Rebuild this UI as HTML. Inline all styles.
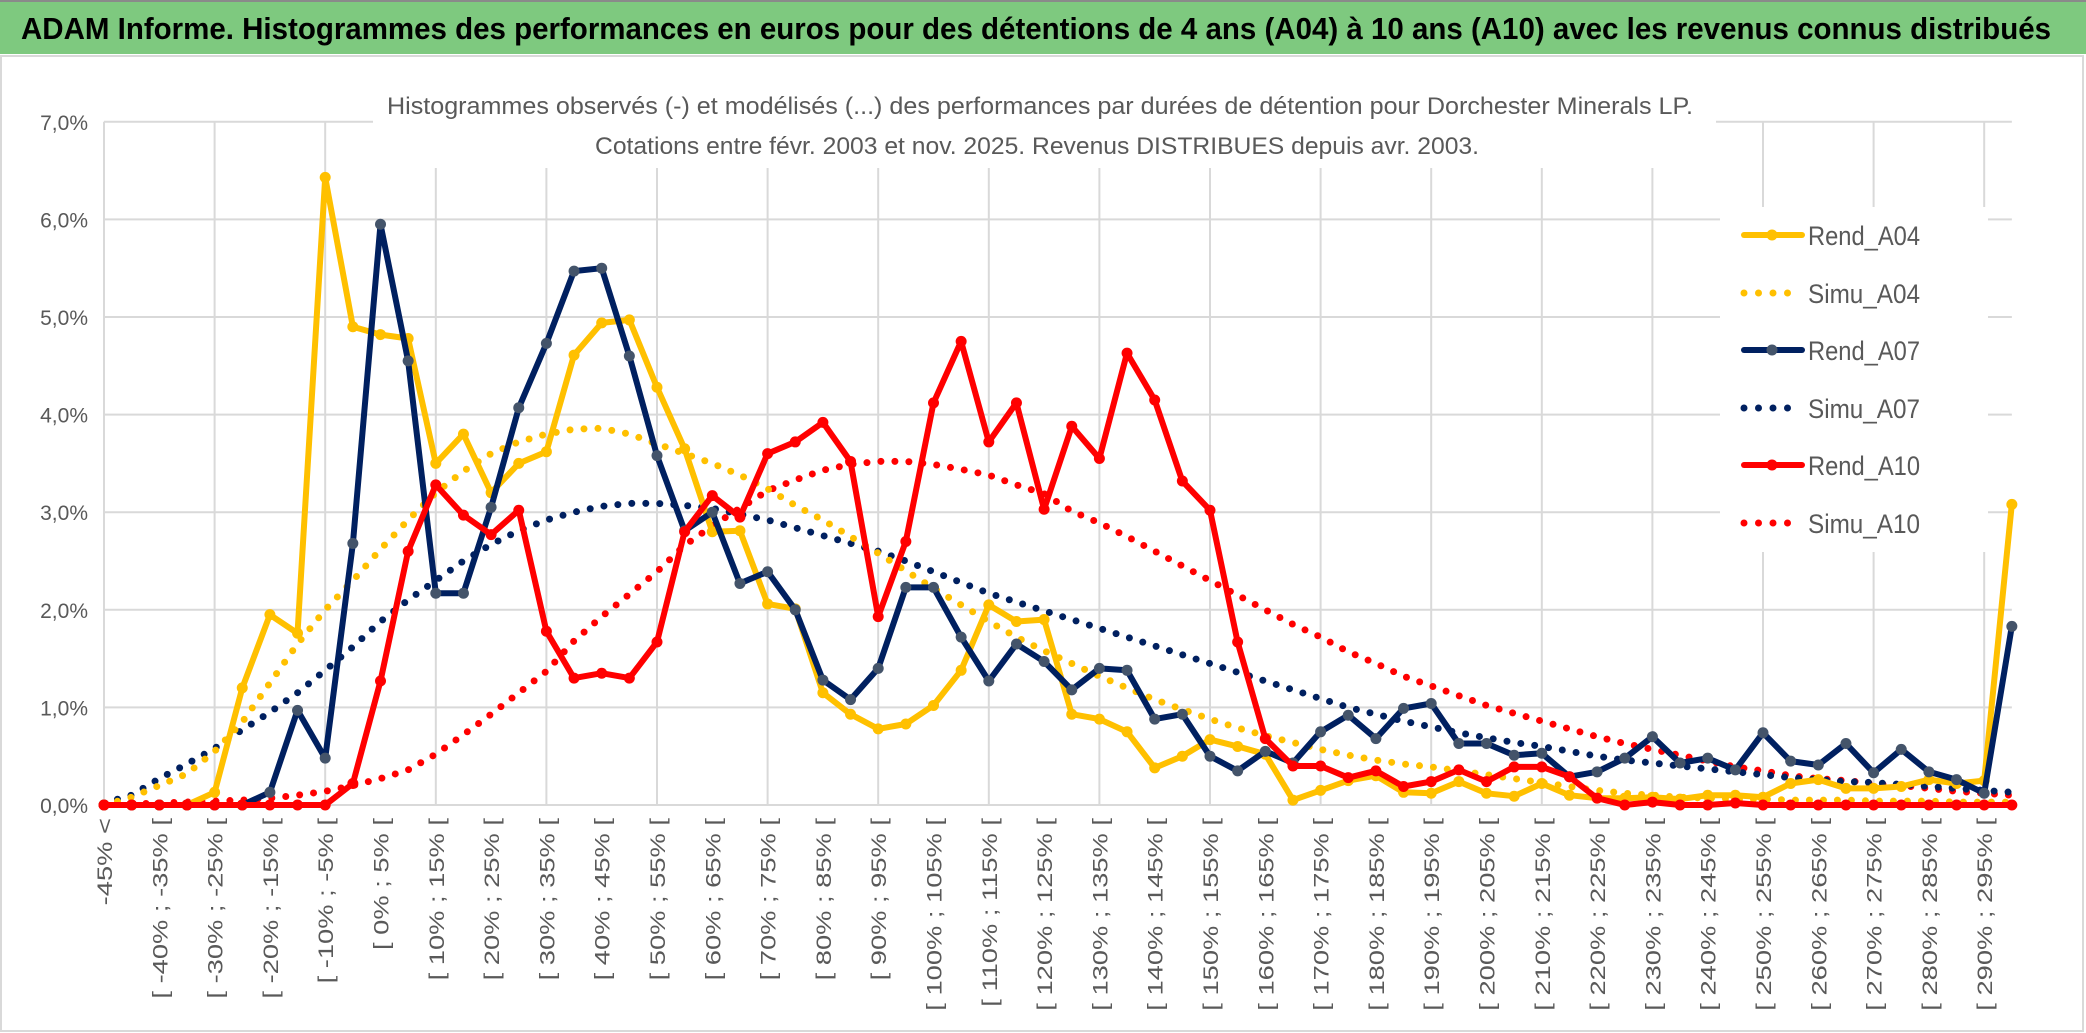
<!DOCTYPE html>
<html><head><meta charset="utf-8"><style>
html,body{margin:0;padding:0;background:#fff;}
svg{display:block;font-family:"Liberation Sans",sans-serif;}
</style></head><body>
<svg id="chart" width="2086" height="1033" viewBox="0 0 2086 1033" xmlns="http://www.w3.org/2000/svg">
<rect x="0" y="0" width="2086" height="1033" fill="#fff"/>
<rect x="1" y="56" width="2082" height="975" fill="none" stroke="#d9d9d9" stroke-width="2"/>
<rect x="0" y="0" width="2086" height="54" fill="#7ec97f"/>
<line x1="0" y1="1" x2="2086" y2="1" stroke="#8a8a8a" stroke-width="2"/>
<text x="1036" y="39" text-anchor="middle" font-size="31" font-weight="bold" fill="#000" textLength="2030" lengthAdjust="spacingAndGlyphs">ADAM Informe. Histogrammes des performances en euros pour des détentions de 4 ans (A04) à 10 ans (A10) avec les revenus connus distribués</text>
<g id="grid"></g>
<rect x="373" y="80" width="1343" height="88" fill="#fff"/>
<text x="1040" y="114" text-anchor="middle" font-size="24" fill="#595959" textLength="1306" lengthAdjust="spacingAndGlyphs">Histogrammes observés (-) et modélisés (...) des performances par durées de détention pour Dorchester Minerals LP.</text>
<text x="1037" y="154" text-anchor="middle" font-size="24" fill="#595959" textLength="884" lengthAdjust="spacingAndGlyphs">Cotations entre févr. 2003 et nov. 2025. Revenus DISTRIBUES depuis avr. 2003.</text>
<rect x="1720" y="207" width="268" height="345" fill="#fff"/>
<g id="yaxis"></g>
<g id="xaxis"></g>
<g id="series"></g>
<g id="legend"></g>
</svg>
<script>
const categoryStarts = [];
for (let k = 0; k < 70; k++) categoryStarts.push(k === 0 ? null : -50 + 5 * k);
const yTicks = [0, 1, 2, 3, 4, 5, 6, 7];
const rendA04 = [0,0,0,0,0.13,1.2,1.95,1.76,6.43,4.9,4.82,4.78,3.5,3.8,3.2,3.5,3.62,4.61,4.94,4.97,4.28,3.65,2.8,2.81,2.06,2.01,1.15,0.93,0.78,0.83,1.02,1.38,2.05,1.88,1.9,0.93,0.88,0.75,0.38,0.5,0.67,0.6,0.52,0.05,0.15,0.25,0.3,0.13,0.12,0.24,0.12,0.09,0.22,0.1,0.07,0.07,0.08,0.06,0.1,0.1,0.08,0.22,0.26,0.17,0.17,0.19,0.26,0.22,0.25,3.08];
const simuA04 = [0,0.08,0.2,0.32,0.55,0.85,1.25,1.65,2.0,2.3,2.62,2.92,3.2,3.42,3.6,3.72,3.8,3.85,3.86,3.8,3.7,3.6,3.5,3.38,3.24,3.07,2.92,2.75,2.58,2.4,2.22,2.05,1.88,1.72,1.58,1.45,1.32,1.2,1.08,0.98,0.88,0.79,0.71,0.64,0.57,0.51,0.46,0.42,0.39,0.35,0.31,0.27,0.23,0.19,0.15,0.12,0.1,0.08,0.07,0.06,0.06,0.05,0.05,0.05,0.04,0.04,0.04,0.03,0.03,0.03];
const rendA07 = [0,0,0,0,0,0,0.13,0.97,0.48,2.68,5.95,4.55,2.17,2.17,3.05,4.07,4.73,5.47,5.5,4.6,3.58,2.81,3.0,2.27,2.39,2.0,1.28,1.08,1.4,2.23,2.23,1.72,1.27,1.65,1.47,1.18,1.4,1.38,0.88,0.93,0.5,0.35,0.55,0.43,0.75,0.92,0.68,0.99,1.04,0.63,0.63,0.51,0.53,0.29,0.34,0.48,0.7,0.43,0.48,0.36,0.74,0.45,0.41,0.63,0.33,0.57,0.34,0.26,0.12,1.83];
const simuA07 = [0.02,0.1,0.27,0.42,0.58,0.77,0.95,1.15,1.38,1.62,1.88,2.1,2.3,2.5,2.67,2.81,2.92,3.0,3.06,3.09,3.09,3.07,3.04,2.98,2.92,2.84,2.76,2.68,2.6,2.5,2.39,2.28,2.17,2.08,1.99,1.9,1.81,1.72,1.63,1.54,1.45,1.36,1.27,1.18,1.09,1.0,0.93,0.86,0.8,0.74,0.69,0.64,0.6,0.55,0.5,0.46,0.43,0.4,0.37,0.34,0.31,0.28,0.26,0.24,0.23,0.21,0.19,0.17,0.15,0.13];
const rendA10 = [0,0,0,0,0,0,0,0,0,0.22,1.27,2.6,3.28,2.97,2.77,3.02,1.78,1.3,1.35,1.3,1.67,2.8,3.17,2.95,3.6,3.72,3.92,3.52,1.93,2.7,4.12,4.75,3.72,4.12,3.03,3.88,3.55,4.63,4.15,3.32,3.02,1.67,0.68,0.4,0.4,0.28,0.35,0.19,0.24,0.36,0.24,0.39,0.39,0.29,0.07,0,0.03,0,0,0.02,0,0,0,0,0,0,0,0,0,0];
const simuA10 = [0,0.01,0.02,0.03,0.04,0.05,0.07,0.1,0.14,0.2,0.27,0.36,0.52,0.72,0.93,1.15,1.37,1.68,1.93,2.16,2.39,2.66,2.86,3.04,3.22,3.33,3.43,3.49,3.52,3.52,3.49,3.44,3.38,3.28,3.19,3.01,2.89,2.75,2.6,2.45,2.3,2.15,2.0,1.85,1.72,1.57,1.45,1.32,1.22,1.12,1.02,0.94,0.86,0.78,0.7,0.63,0.57,0.51,0.45,0.39,0.35,0.3,0.27,0.25,0.22,0.2,0.17,0.14,0.12,0.1];
const seriesNames = ["Rend_A04","Simu_A04","Rend_A07","Simu_A07","Rend_A10","Simu_A10"];

const NS = "http://www.w3.org/2000/svg";
const X0 = 104, DX = 27.65, Y0 = 805, DY = 97.6;
function xPos(k){ return X0 + k * DX; }
function yPos(v){ return Y0 - v * DY; }
function mk(tag, attrs, parent){ const e = document.createElementNS(NS, tag); for (const a in attrs) e.setAttribute(a, attrs[a]); parent.appendChild(e); return e; }

const grid = document.getElementById('grid');
yTicks.forEach(t => {
  const l = mk('line', {x1: X0, x2: xPos(69), y1: yPos(t), y2: yPos(t), stroke: '#d9d9d9', 'stroke-width': 2}, grid);
  
  
});
for (let k = 0; k < categoryStarts.length; k += 4) {
  const l = mk('line', {x1: xPos(k), x2: xPos(k), y1: yPos(7), y2: yPos(0), stroke: '#d9d9d9', 'stroke-width': 2}, grid);
  
  
}
const yaxis = document.getElementById('yaxis');
yTicks.forEach(t => {
  const tx = mk('text', {x: 88, y: yPos(t) + 8, 'text-anchor': 'end', 'font-size': 21, fill: '#595959'}, yaxis);
  tx.textContent = t.toFixed(1).replace('.', ',') + '%';
  
  
});
const xaxis = document.getElementById('xaxis');
for (let k = 0; k < categoryStarts.length; k += 2) {
  const s = categoryStarts[k];
  const label = s === null ? '-45% <' : '[ ' + s + '% ; ' + (s + 5) + '% [';
  const x = xPos(k) + 8;
  const tx = mk('text', {x: x, y: 818, 'text-anchor': 'end', 'font-size': 21, fill: '#595959', transform: 'rotate(-90 ' + x + ' 818)'}, xaxis);
  tx.textContent = label;
  
  
  const w = tx.getComputedTextLength();
  if (w > 0) { tx.setAttribute('textLength', (w * 1.3).toFixed(1)); tx.setAttribute('lengthAdjust', 'spacingAndGlyphs'); }
}
const seriesG = document.getElementById('series');
function pts(arr){ return arr.map((v, k) => xPos(k).toFixed(1) + ',' + yPos(v).toFixed(1)).join(' '); }
function dotted(arr, color, name){
  const p = mk('polyline', {points: pts(arr), fill: 'none', stroke: color, 'stroke-width': 7, 'stroke-linecap': 'round', 'stroke-dasharray': '0 14'}, seriesG);
  
  
}
function solid(arr, color, mcolor, name){
  const p = mk('polyline', {points: pts(arr), fill: 'none', stroke: color, 'stroke-width': 6, 'stroke-linejoin': 'round', 'stroke-linecap': 'round'}, seriesG);
  
  
  arr.forEach((v, k) => {
    const c = mk('circle', {cx: xPos(k), cy: yPos(v), r: 5.5, fill: mcolor}, seriesG);
    
    
  });
}
dotted(simuA10, '#ff0000', 'simu-a10-line');
dotted(simuA07, '#002060', 'simu-a07-line');
dotted(simuA04, '#ffc000', 'simu-a04-line');
solid(rendA04, '#ffc000', '#ffc000', 'rend-a04-line');
solid(rendA07, '#002060', '#44546a', 'rend-a07-line');
solid(rendA10, '#ff0000', '#ff0000', 'rend-a10-line');

const legend = document.getElementById('legend');
const legColors = ['#ffc000','#ffc000','#002060','#002060','#ff0000','#ff0000'];
const legMarker = ['#ffc000',null,'#44546a',null,'#ff0000',null];
const legY = [235, 293, 350, 408, 465, 523];
seriesNames.forEach((n, i) => {
  const g = mk('g', {}, legend);
  
  
  if (legMarker[i]) {
    mk('line', {x1: 1744, x2: 1802, y1: legY[i], y2: legY[i], stroke: legColors[i], 'stroke-width': 6, 'stroke-linecap': 'round'}, g);
    mk('circle', {cx: 1772, cy: legY[i], r: 5.5, fill: legMarker[i]}, g);
  } else {
    mk('line', {x1: 1744, x2: 1792, y1: legY[i], y2: legY[i], stroke: legColors[i], 'stroke-width': 7, 'stroke-linecap': 'round', 'stroke-dasharray': '0 14.5'}, g);
  }
  const t = mk('text', {x: 1808, y: legY[i] + 10, 'font-size': 27, fill: '#595959', textLength: 112, lengthAdjust: 'spacingAndGlyphs'}, g);
  t.textContent = n;
});
</script>
</body></html>
